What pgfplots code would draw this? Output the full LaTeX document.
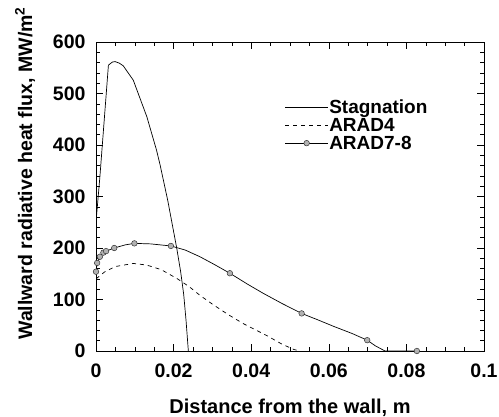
\documentclass[border=0pt]{standalone}
\usepackage{fontspec}
\setmainfont{Liberation Sans}
\usepackage{pgfplots}
\pgfplotsset{compat=1.18}
\begin{document}
\begin{tikzpicture}
\begin{axis}[
  at={(96bp,66bp)}, anchor=south west,
  scale only axis, width=388bp, height=309bp,
  xmin=0, xmax=0.1, ymin=0, ymax=600,
  xtick={0,0.02,0.04,0.06,0.08,0.1},
  xticklabels={0,0.02,0.04,0.06,0.08,0.1},
  ytick={0,100,...,600},
  minor x tick num=3, minor y tick num=4,
  tick align=inside, ticks=both,
  xtick pos=both, ytick pos=both,
  major tick length=7bp, minor tick length=4bp,
  every tick/.style={black, line width=0.6pt},
  axis line style={line width=0.8pt},
  /pgf/number format/assume math mode=true,
  tick label style={font=\fontsize{19.5bp}{22bp}\selectfont\bfseries},
  xticklabel style={yshift=-9bp},
  yticklabel style={xshift=-7bp},
  xlabel={Distance from the wall, m},
  ylabel={Wallward radiative heat flux, MW/m$^{\mathbf 2}$},
  label style={font=\fontsize{20bp}{22bp}\selectfont\bfseries},
  xlabel style={at={(axis description cs:0.5,-0.185)}, anchor=center},
  ylabel style={font=\fontsize{19.5bp}{22bp}\selectfont\bfseries, at={(axis description cs:-0.183,0.575)}, anchor=center, rotate=0},
  legend style={draw=none, fill=none, at={(axis description cs:0.479,0.822)}, anchor=north west,
    font=\fontsize{19bp}{19bp}\selectfont\bfseries,
    nodes={inner sep=1pt, text height=13bp, text depth=1bp}, row sep=2bp},
  legend cell align=left,
  legend image code/.code={\draw[#1, mark indices={2}] plot coordinates {(0cm,0cm) (0.75cm,0cm) (1.5cm,0cm)};},
]
\addplot[black, line width=0.7pt] coordinates {
(0,250) (0.001,338) (0.0032,555) (0.0042,561) (0.0049,562) (0.006,559) (0.007,554)
(0.0096,526) (0.0131,455) (0.0156,390) (0.0165,362) (0.0185,292) (0.0208,200)
(0.0218,155) (0.0226,110) (0.0232,60) (0.0238,0)};
\addlegendentry{Stagnation}
\addplot[black, line width=0.7pt, dashed, dash pattern=on 4bp off 4bp] coordinates {
(0,140) (0.0023,154) (0.005,164) (0.0096,170) (0.013,167) (0.0168,158) (0.0208,141)
(0.024,125) (0.0268,108) (0.030,91) (0.034,71) (0.038,53) (0.044,30) (0.048,13) (0.051,3) (0.0525,0)};
\addlegendentry{ARAD4}
\addplot[black, line width=0.7pt, mark=*, mark size=2.8bp,
  mark options={fill=gray!60, draw=gray!40!black, line width=0.5pt},
  mark indices={1,2,3,4,5,6,8,10,14,18,22,25}] coordinates {
(0,154) (0.0003,171) (0.0010,183) (0.0019,191) (0.0026,194) (0.0047,200) (0.0075,206)
(0.0099,209) (0.0140,208) (0.0193,204) (0.0230,196) (0.0268,183) (0.0305,168)
(0.0345,151) (0.0390,130) (0.0431,112) (0.0480,92) (0.0530,73) (0.0570,61)
(0.0612,48) (0.0660,34) (0.0699,21) (0.0720,10) (0.0745,0) (0.0827,0)};
\addlegendentry{ARAD7-8}
\end{axis}
\pgfresetboundingbox
\useasboundingbox (0,0) rectangle (499bp,417bp);
\end{tikzpicture}
\end{document}
